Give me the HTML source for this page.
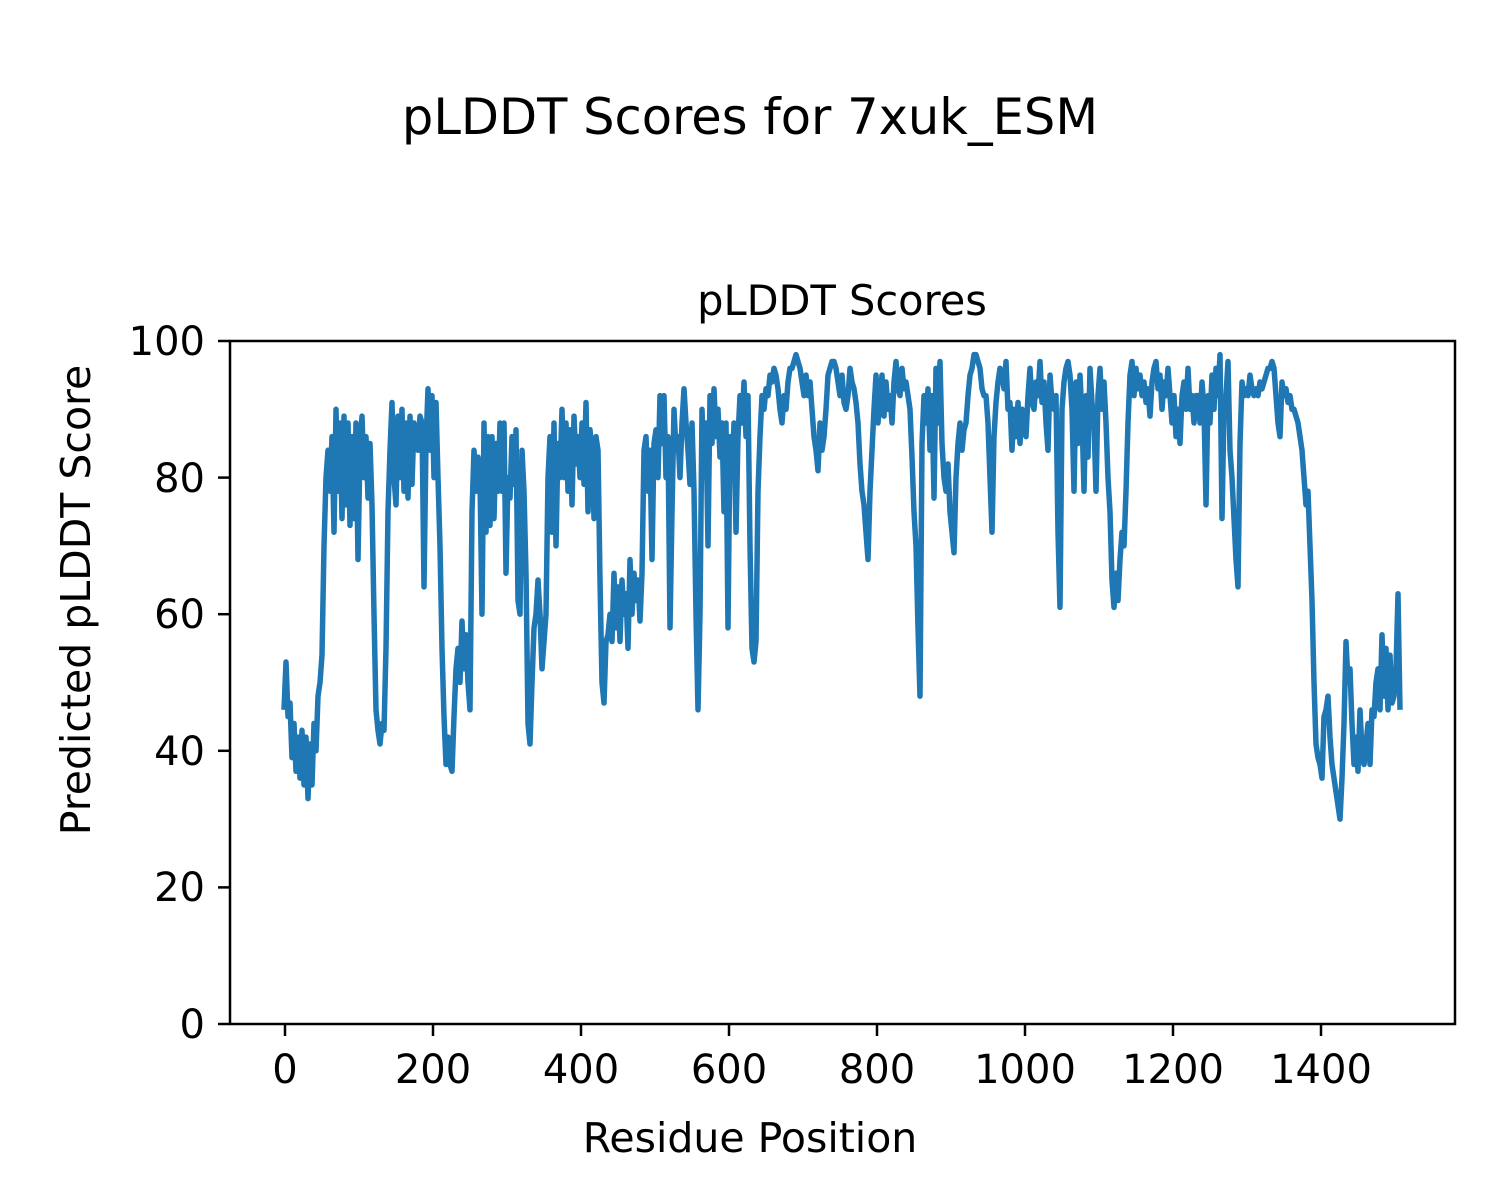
<!DOCTYPE html>
<html><head><meta charset="utf-8"><style>body{margin:0;background:#fff}svg{display:block}text{font-family:"DejaVu Sans","Liberation Sans",sans-serif;fill:#000}</style></head>
<body>
<svg width="1500" height="1200" viewBox="0 0 1500 1200" xmlns="http://www.w3.org/2000/svg">
<rect width="1500" height="1200" fill="#fff"/>
<text x="750" y="134" font-size="49.5" text-anchor="middle">pLDDT Scores for 7xuk_ESM</text>
<text x="842" y="315" font-size="41.5" text-anchor="middle">pLDDT Scores</text>
<g transform="matrix(1 0 0 -6.83 0 1024)">
<polyline fill="none" stroke="#1f77b4" stroke-width="5.5" vector-effect="non-scaling-stroke" stroke-linejoin="round" points="
284,46 286,53 288,45 290,47 292,39 294,44 296,37 298,42 300,36 302,43 304,35 306,42 308,33 310,41 312,35 314,44 316,40 318,48 320,50 322,54 324,70 326,80 328,84 330,78 332,86 334,72 336,90 338,78 340,88 342,74 344,89 346,76 348,88 350,73 352,86 354,74 356,88 358,68 360,84 362,89 364,80 366,86 368,77 370,85 372,76 374,60 376,46 378,43 380,41 382,44 384,43 386,55 388,75 390,84 392,91 394,80 396,76 398,89 400,80 402,90 404,78 406,88 408,77 410,89 412,79 414,88 416,86 418,84 420,89 422,88 424,64 426,85 428,93 430,84 432,92 434,80 436,91 438,80 440,70 442,55 444,45 446,38 448,42 450,38 452,37 454,45 456,52 458,55 460,50 462,59 464,52 466,57 468,50 470,46 472,75 474,84 476,78 478,83 480,80 482,60 484,88 486,72 488,86 490,73 492,86 494,74 496,85 498,78 500,88 502,78 504,88 506,66 508,80 510,77 512,86 514,79 516,87 518,62 520,60 522,84 524,78 526,66 528,44 530,41 532,50 534,58 536,60 538,65 540,60 542,52 544,56 546,60 548,80 550,86 552,72 554,88 556,70 558,85 560,80 562,90 564,80 566,88 568,78 570,87 572,76 574,89 576,82 578,86 580,80 582,88 584,79 586,91 588,75 590,87 592,84 594,74 596,86 598,84 600,65 602,50 604,47 606,56 608,57 610,60 612,56 614,66 616,58 618,64 620,56 622,65 624,60 626,63 628,55 630,68 632,60 634,66 636,62 638,65 640,59 642,66 644,84 646,86 648,78 650,84 652,68 654,85 656,87 658,80 660,92 662,85 664,92 666,80 668,86 670,58 672,75 674,90 676,84 678,86 680,80 682,88 684,93 686,88 688,84 690,79 692,88 694,78 696,60 698,46 700,60 702,90 704,80 706,88 708,70 710,92 712,85 714,93 716,86 718,90 720,83 722,88 724,75 726,88 728,58 730,86 732,80 734,88 736,72 738,86 740,92 742,88 744,94 746,86 748,92 750,70 752,55 754,53 756,56 758,78 760,86 762,92 764,90 766,93 768,92 770,95 772,94 774,96 776,95 778,93 780,90 782,88 784,92 786,90 788,94 790,96 792,96 794,97 796,98 798,97 800,96 802,94 804,92 806,95 808,92 810,94 812,90 814,86 816,84 818,81 820,88 822,84 824,86 826,90 828,95 830,96 832,97 834,97 836,96 838,94 840,92 842,95 844,91 846,90 848,92 850,96 852,94 854,93 856,91 858,88 860,82 862,78 864,76 866,72 868,68 870,78 872,84 874,90 876,95 878,88 880,92 882,95 884,89 886,94 888,90 890,92 892,88 894,94 896,97 898,93 900,92 902,96 904,93 906,94 908,92 910,90 912,83 914,75 916,70 918,58 920,48 922,85 924,92 926,88 928,93 930,84 932,92 934,77 936,96 938,88 940,97 942,85 944,80 946,78 948,82 950,75 952,72 954,69 956,80 958,85 960,88 962,84 964,87 966,88 968,92 970,95 972,96 974,98 976,98 978,97 980,96 982,93 984,92 986,92 988,88 990,80 992,72 994,86 996,91 998,94 1000,96 1002,95 1004,93 1006,97 1008,90 1010,91 1012,84 1014,90 1016,86 1018,91 1020,85 1022,90 1024,88 1026,86 1028,92 1030,96 1032,91 1034,90 1036,94 1038,92 1040,97 1042,91 1044,94 1046,88 1048,84 1050,95 1052,91 1054,90 1056,92 1058,72 1060,61 1062,90 1064,94 1066,96 1068,97 1070,95 1072,90 1074,78 1076,94 1078,85 1080,95 1082,89 1084,78 1086,92 1088,83 1090,96 1092,91 1094,88 1096,78 1098,92 1100,96 1102,90 1104,94 1106,88 1108,80 1110,75 1112,65 1114,61 1116,66 1118,62 1120,68 1122,72 1124,70 1126,78 1128,88 1130,95 1132,97 1134,92 1136,96 1138,93 1140,95 1142,92 1144,94 1146,91 1148,93 1150,89 1152,94 1154,96 1156,97 1158,93 1160,95 1162,90 1164,94 1166,92 1168,96 1170,92 1172,88 1174,92 1176,86 1178,90 1180,85 1182,92 1184,94 1186,90 1188,96 1190,90 1192,92 1194,88 1196,92 1198,92 1200,88 1202,94 1204,90 1206,76 1208,92 1210,88 1212,95 1214,90 1216,96 1218,92 1220,98 1222,74 1224,90 1226,92 1228,97 1230,84 1232,80 1234,74 1236,68 1238,64 1240,85 1242,94 1244,92 1246,93 1248,92 1250,95 1252,93 1254,92 1256,93 1258,92 1260,94 1262,93 1264,94 1266,95 1268,96 1270,96 1272,97 1274,96 1276,92 1278,88 1280,86 1282,94 1284,92 1286,93 1288,91 1290,92 1292,90 1294,90 1296,89 1298,88 1300,86 1302,84 1304,80 1306,76 1308,78 1310,70 1312,62 1314,50 1316,41 1318,39 1320,38 1322,36 1324,45 1326,46 1328,48 1330,42 1332,38 1334,36 1336,34 1338,32 1340,30 1342,36 1344,44 1346,56 1348,50 1350,52 1352,44 1354,38 1356,42 1358,37 1360,46 1362,40 1364,38 1366,41 1368,44 1370,38 1372,46 1374,45 1376,50 1378,52 1380,46 1382,57 1384,48 1386,55 1388,46 1390,54 1392,47 1394,48 1396,52 1398,63 1400,46"/>
</g>
<rect x="230" y="341" width="1225" height="683" fill="none" stroke="#000" stroke-width="2.5"/>
<g stroke="#000" stroke-width="2.5">
<line x1="285" y1="1024" x2="285" y2="1036"/><line x1="433" y1="1024" x2="433" y2="1036"/><line x1="581" y1="1024" x2="581" y2="1036"/><line x1="729" y1="1024" x2="729" y2="1036"/><line x1="877" y1="1024" x2="877" y2="1036"/><line x1="1025" y1="1024" x2="1025" y2="1036"/><line x1="1173" y1="1024" x2="1173" y2="1036"/><line x1="1321" y1="1024" x2="1321" y2="1036"/>
<line x1="218" y1="1024" x2="230" y2="1024"/><line x1="218" y1="887.4" x2="230" y2="887.4"/><line x1="218" y1="750.8" x2="230" y2="750.8"/><line x1="218" y1="614.2" x2="230" y2="614.2"/><line x1="218" y1="477.6" x2="230" y2="477.6"/><line x1="218" y1="341" x2="230" y2="341"/>
</g>
<g font-size="40" text-anchor="middle">
<text x="285" y="1083">0</text><text x="433" y="1083">200</text><text x="581" y="1083">400</text><text x="729" y="1083">600</text><text x="877" y="1083">800</text><text x="1025" y="1083">1000</text><text x="1173" y="1083">1200</text><text x="1321" y="1083">1400</text>
</g>
<g font-size="40" text-anchor="end">
<text x="205" y="1038">0</text><text x="205" y="901">20</text><text x="205" y="765">40</text><text x="205" y="628">60</text><text x="205" y="492">80</text><text x="205" y="355">100</text>
</g>
<text x="750" y="1152" font-size="41" text-anchor="middle">Residue Position</text>
<text transform="translate(90,600) rotate(-90)" font-size="41" text-anchor="middle">Predicted pLDDT Score</text>
</svg>
</body></html>
